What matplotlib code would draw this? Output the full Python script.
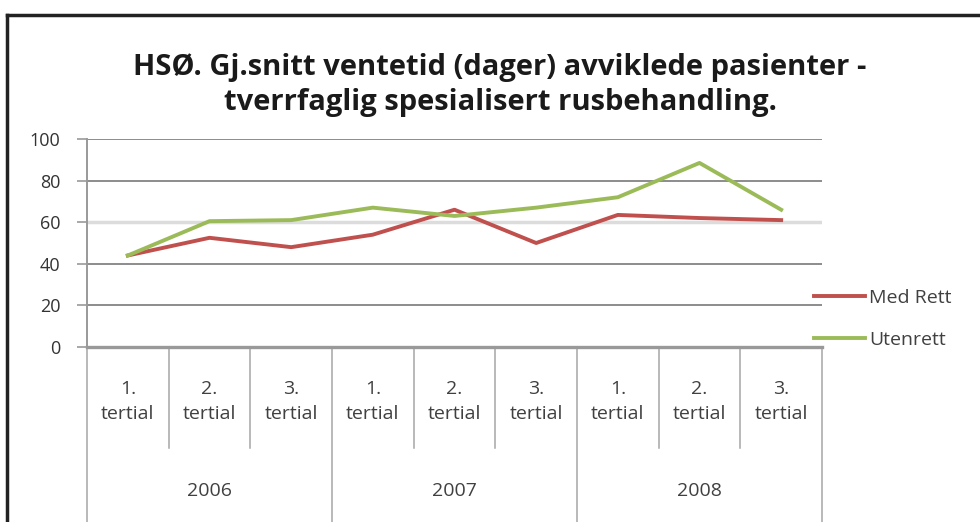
import matplotlib
matplotlib.use("Agg")
import matplotlib.pyplot as plt
import matplotlib.transforms as mtransforms
from matplotlib.lines import Line2D

plt.rcParams['font.family'] = ['Open Sans', 'DejaVu Sans']

# data
years = ['2006', '2007', '2008']
tertials = ['1.\ntertial', '2.\ntertial', '3.\ntertial']
med_rett = [44, 52.5, 48, 54, 66, 50, 63.5, 62, 61]
utenrett = [44, 60.5, 61, 67, 63, 67, 72, 88.5, 66]
yticks = [0, 20, 40, 60, 80, 100]

fig = plt.figure(figsize=(9.8, 5.22), dpi=100)
ax = fig.add_axes([87 / 980, 1 - 347 / 522, (822 - 87) / 980, (347 - 139) / 522])

x = list(range(len(med_rett)))
ax.plot(x, med_rett, color='#C0504D', lw=2.8, label='Med Rett')
ax.plot(x, utenrett, color='#9BBB59', lw=2.8, label='Utenrett')

ax.set_xlim(-0.5, len(x) - 0.5)
ax.set_ylim(0, 100)
ax.set_yticks(yticks)
ax.set_yticklabels([str(v) for v in yticks], fontsize=13, color='#333333')
ax.tick_params(axis='y', length=7, color='#999999', width=1.2, pad=12)
ax.set_xticks([])
ax.grid(axis='y', color='#8c8c8c', lw=1.4)
ax.set_axisbelow(True)
for i, gl in enumerate(ax.yaxis.get_gridlines()):
    if yticks[i] == 60:
        gl.set_color('#dcdcdc')
        gl.set_linewidth(2.5)
for s in ['top', 'right']:
    ax.spines[s].set_visible(False)
ax.spines['left'].set_color('#999999')
ax.spines['left'].set_linewidth(1.4)
ax.spines['bottom'].set_color('#999999')
ax.spines['bottom'].set_linewidth(2.4)

# category axis with two levels
trans = mtransforms.blended_transform_factory(ax.transData, ax.transAxes)
for i in range(len(x) + 1):
    edge = i - 0.5
    low = -0.9 if i % 3 == 0 else -0.485
    ax.plot([edge, edge], [0, low], transform=trans, color='#a6a6a6', lw=1.1, clip_on=False)
for i in x:
    ax.text(i, -0.26, tertials[i % 3], transform=trans, ha='center', va='center',
            fontsize=14, color='#404040', linespacing=1.5)
for j, yr in enumerate(years):
    ax.text(3 * j + 1, -0.69, yr, transform=trans, ha='center', va='center',
            fontsize=14, color='#404040')

fig.legend(loc='center left', bbox_to_anchor=(814 / 980, 1 - 319 / 522), frameon=False,
           fontsize=14, labelspacing=1.25, handlelength=2.6, handletextpad=0.25,
           borderpad=0, borderaxespad=0, labelcolor='#404040')

fig.text(500 / 980, 1 - 85 / 522,
         'HSØ. Gj.snitt ventetid (dager) avviklede pasienter -\ntverrfaglig spesialisert rusbehandling.',
         ha='center', va='center', fontsize=21, fontweight='bold', color='#1a1a1a',
         linespacing=1.3)

# outer frame
fig.add_artist(Line2D([7 / 980, 1.0], [1 - 15 / 522, 1 - 15 / 522], color='#222222', lw=2.5))
fig.add_artist(Line2D([7 / 980, 7 / 980], [0, 1 - 15 / 522], color='#222222', lw=2.5))

fig.savefig('out.png', dpi=100)
